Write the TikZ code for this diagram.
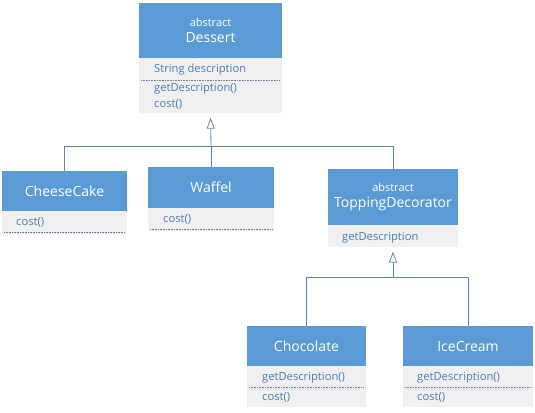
\documentclass[tikz,border=0pt]{standalone}
\usepackage{fontspec}
\setmainfont{Open Sans}
\usetikzlibrary{arrows.meta}
\definecolor{hdrblue}{HTML}{5B9BD5}
\definecolor{graybg}{HTML}{F0F0F0}
\definecolor{memtext}{HTML}{4A7EBB}
\definecolor{linecol}{HTML}{5F86AA}
\definecolor{dotcol}{HTML}{6A7E95}
\tikzset{
  hdr/.style={draw=none, fill=hdrblue, text=white, inner sep=0pt, align=center, font=\fontsize{14}{17}\selectfont},
  body/.style={draw=none, fill=graybg, inner sep=0pt, anchor=north},
  mem/.style={text=memtext, inner sep=0pt, anchor=west, font=\fontsize{11.2}{13}\selectfont},
  sep/.style={dotcol, densely dotted, line width=0.6pt},
  conn/.style={linecol, line width=0.8pt},
  inh/.style={linecol, line width=0.8pt, -{Triangle[open, length=11pt, width=8pt]}, shorten >=4pt}
}
\begin{document}
\begin{tikzpicture}[x=1pt,y=-1pt]
\useasboundingbox (0,0) rectangle (535,412);
% Dessert
\node[hdr, minimum width=143pt, minimum height=55pt] (dessert) at (210.5,30.5) {{\fontsize{11}{13}\selectfont abstract}\\[-1pt]Dessert};
\node[body, minimum width=143pt, minimum height=55pt] (dessertb) at (dessert.south) {};
\node[mem] (d1) at (154,70) {String description};
\draw[sep] (141,80) -- (280,80);
\node[mem] (d2) at (154,89) {getDescription()};
\node[mem] (d3) at (154,104) {cost()};
% CheeseCake
\node[hdr, minimum width=125pt, minimum height=40pt] (cheese) at (64.5,191) {CheeseCake};
\node[body, minimum width=125pt, minimum height=23pt] (cheeseb) at (cheese.south) {};
\node[mem] (c1) at (16,222) {cost()};
\draw[sep] (4,232) -- (125,232);
% Waffel
\node[hdr, minimum width=126pt, minimum height=41pt] (waffel) at (211,187.5) {Waffel};
\node[body, minimum width=126pt, minimum height=23pt] (waffelb) at (waffel.south) {};
\node[mem] (w1) at (163,219) {cost()};
\draw[sep] (150,229) -- (272,229);
% ToppingDecorator
\node[hdr, minimum width=130pt, minimum height=56pt] (topping) at (393,197) {{\fontsize{11}{13}\selectfont abstract}\\[-1pt]ToppingDecorator};
\node[body, minimum width=130pt, minimum height=22pt] (toppingb) at (topping.south) {};
\node[mem] (t1) at (342,238) {getDescription};
% Chocolate
\node[hdr, minimum width=119pt, minimum height=40pt] (choc) at (306.5,346) {Chocolate};
\node[body, minimum width=119pt, minimum height=41pt] (chocb) at (choc.south) {};
\node[mem] (ch1) at (262,378) {getDescription()};
\draw[sep] (249,387) -- (364,387);
\node[mem] (ch2) at (262,397) {cost()};
% IceCream
\node[hdr, minimum width=130pt, minimum height=40pt] (ice) at (468,346) {IceCream};
\node[body, minimum width=130pt, minimum height=41pt] (iceb) at (ice.south) {};
\node[mem] (i1) at (417,378) {getDescription()};
\draw[sep] (405,387) -- (531,387);
\node[mem] (i2) at (417,397) {cost()};
% connectors level 1
\coordinate (j1) at (211,146);
\draw[inh] (j1) -- (dessertb.south);
\draw[conn] (cheese.north) |- (j1);
\draw[conn] (waffel.north) -- (waffel.north |- j1);
\draw[conn] (topping.north) |- (j1);
% connectors level 2
\coordinate (j2) at (393,277);
\draw[inh] (j2) -- (toppingb.south);
\draw[conn] (choc.north) |- (j2);
\draw[conn] (ice.north) |- (j2);
\end{tikzpicture}
\end{document}
